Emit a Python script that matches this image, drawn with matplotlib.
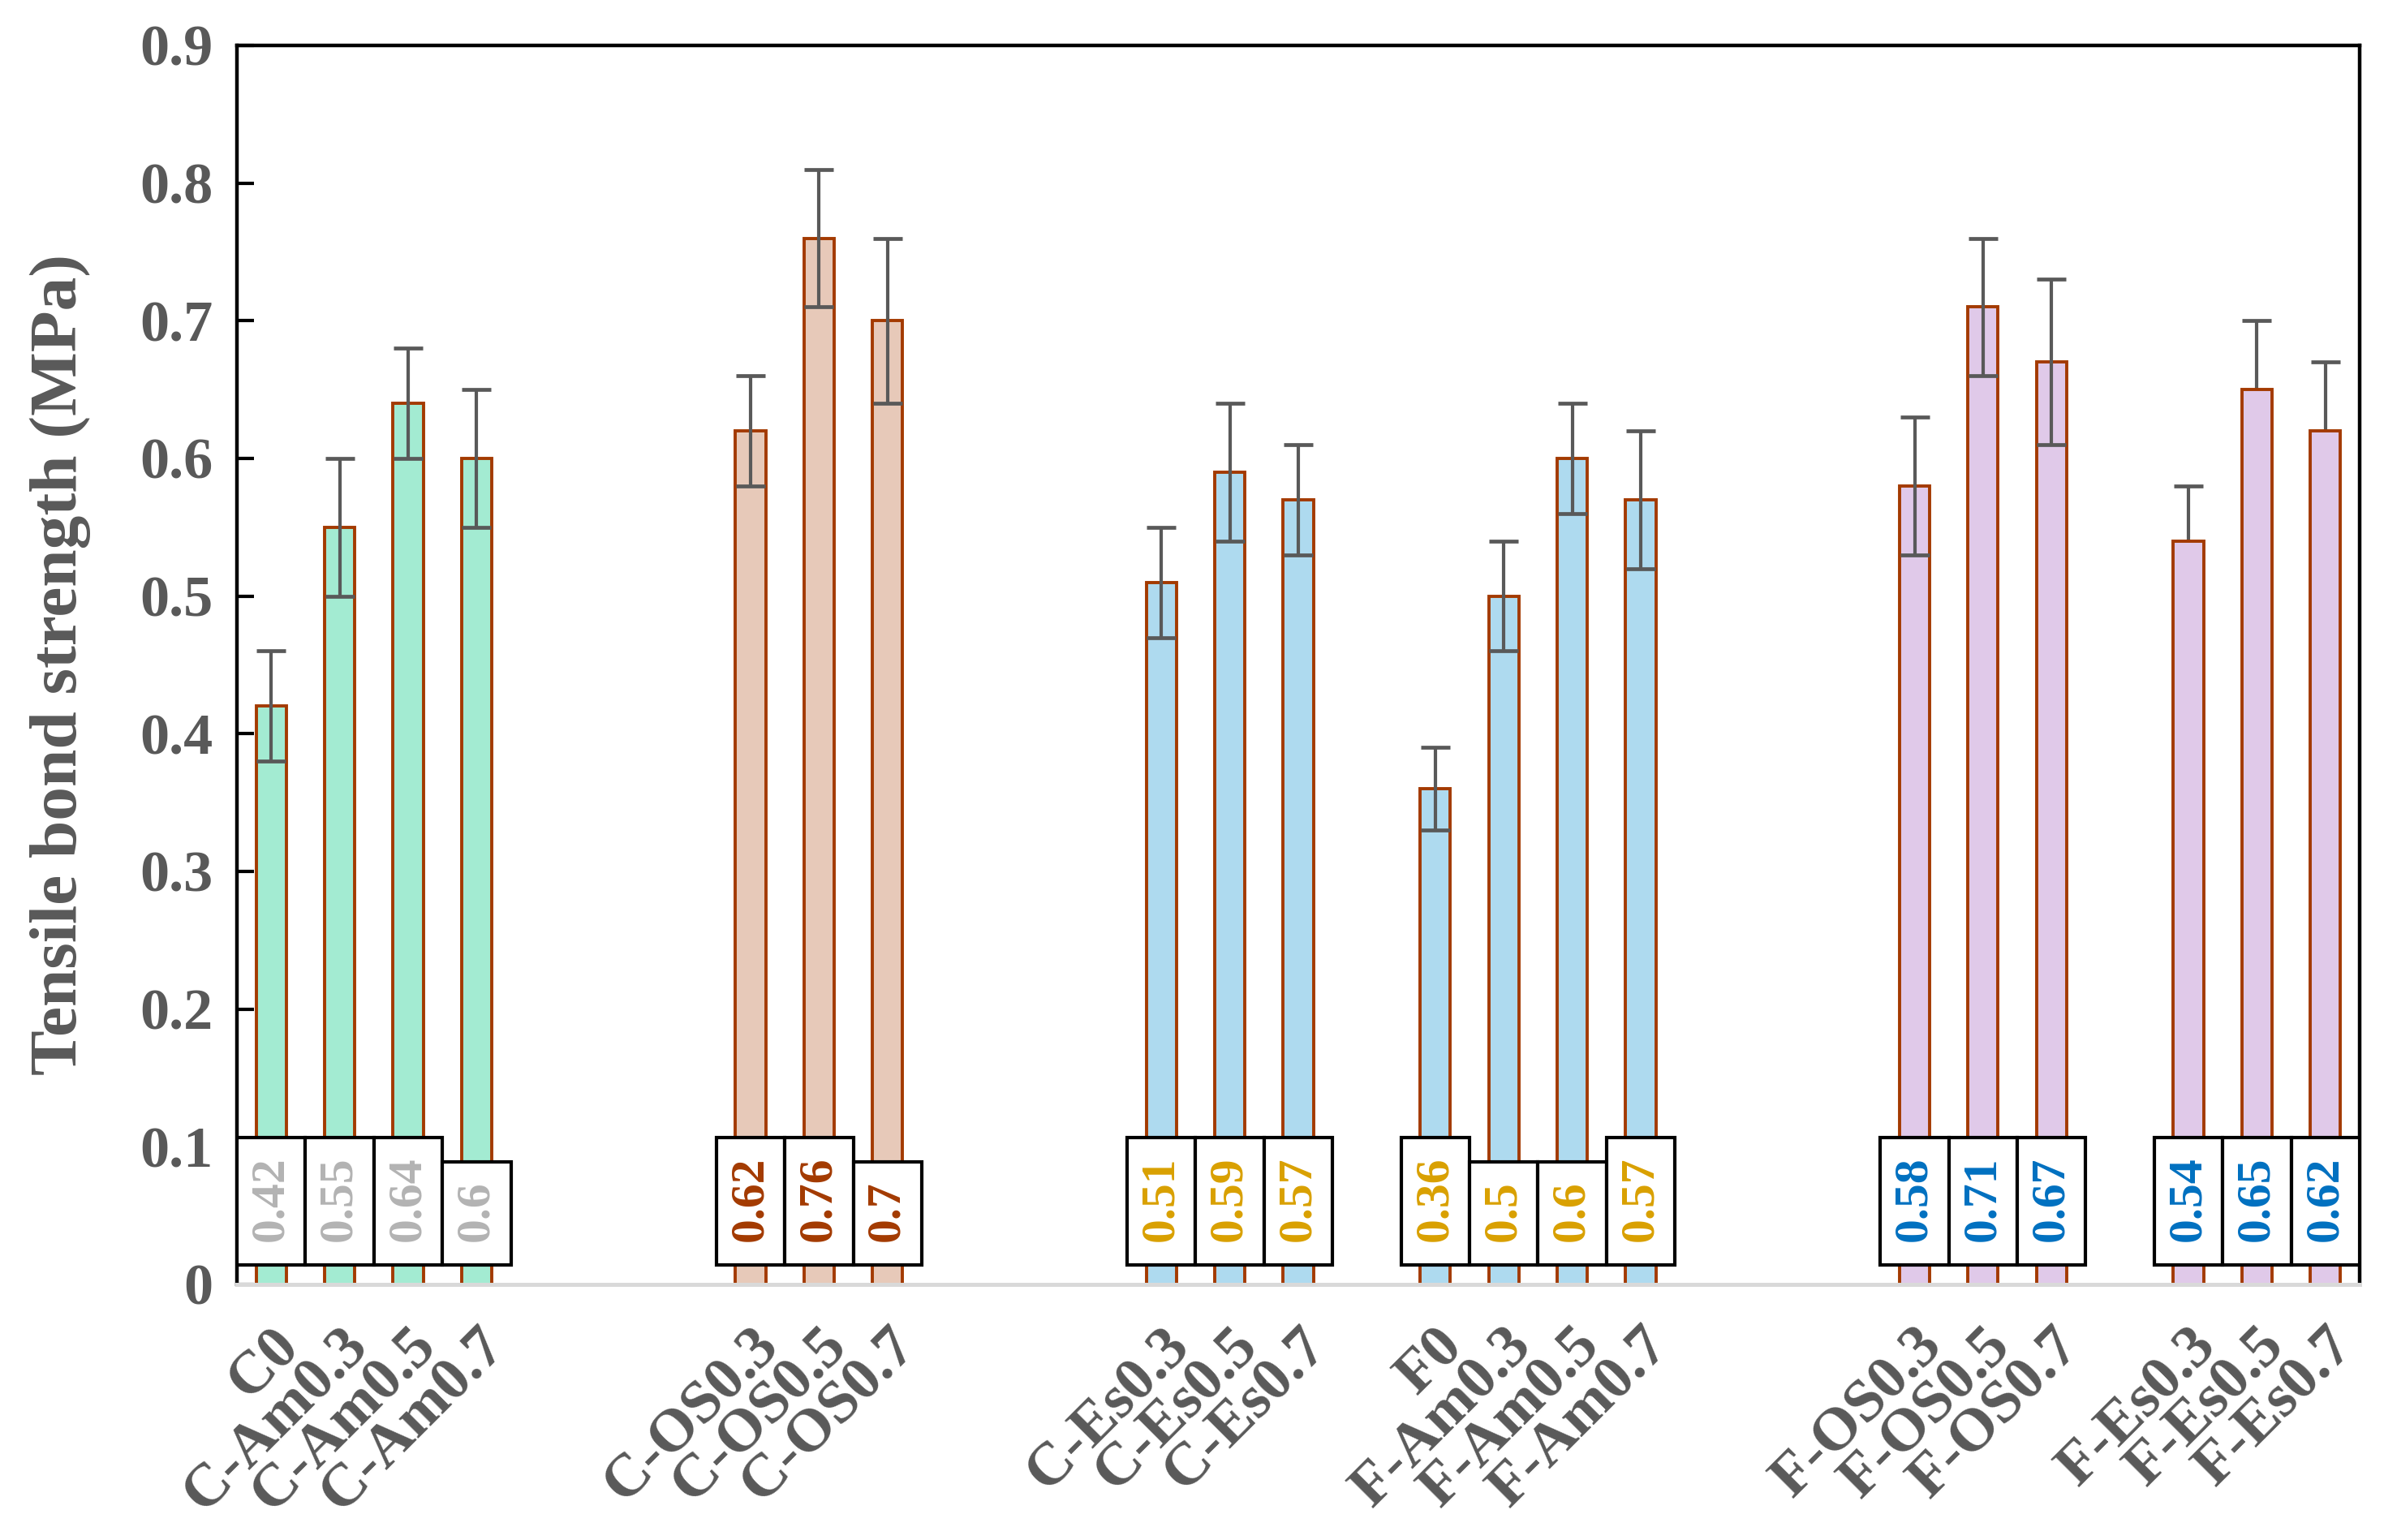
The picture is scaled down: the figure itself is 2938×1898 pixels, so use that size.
import numpy as np
import matplotlib
matplotlib.use("Agg")
import matplotlib.pyplot as plt
from matplotlib.patches import Rectangle

plt.rcParams['font.family'] = ['Liberation Serif', 'DejaVu Serif']
plt.rcParams['font.weight'] = 'bold'

# data
names = ["C0", "C-Am0.3", "C-Am0.5", "C-Am0.7",
         "C-OS0.3", "C-OS0.5", "C-OS0.7",
         "C-Es0.3", "C-Es0.5", "C-Es0.7",
         "F0", "F-Am0.3", "F-Am0.5", "F-Am0.7",
         "F-OS0.3", "F-OS0.5", "F-OS0.7",
         "F-Es0.3", "F-Es0.5", "F-Es0.7"]
strength = [0.42, 0.55, 0.64, 0.60,
            0.62, 0.76, 0.70,
            0.51, 0.59, 0.57,
            0.36, 0.50, 0.60, 0.57,
            0.58, 0.71, 0.67,
            0.54, 0.65, 0.62]
err = [0.04, 0.05, 0.04, 0.05,
       0.04, 0.05, 0.06,
       0.04, 0.05, 0.04,
       0.03, 0.04, 0.04, 0.05,
       0.05, 0.05, 0.06,
       0.04, 0.05, 0.05]
group_sizes = [4, 3, 3, 4, 3, 3]
gaps_after = [3, 3, 1, 3, 1, 0]
fill_cols = ["#A3EBD2", "#E7C9B9", "#AEDAEF", "#AEDAEF", "#E0C9E9", "#E0C9E9"]
text_cols = ["#B3B3B3", "#A33A00", "#D9A000", "#D9A000", "#0070C0", "#0070C0"]
err_behind = [False, False, False, False, False, True]

# slot positions
pos, fills, tcols, behind = [], [], [], []
x = 0
for g, n in enumerate(group_sizes):
    for i in range(n):
        pos.append(x)
        fills.append(fill_cols[g])
        tcols.append(text_cols[g])
        behind.append(err_behind[g])
        x += 1
    x += gaps_after[g]
pos = np.array(pos)

gray = "#595959"
edge = "#A33A00"

fig = plt.figure(figsize=(14.69, 9.49), dpi=200)
ax = fig.add_axes([0.0994, 0.166, 0.8904, 0.8045])

ax.bar(pos, strength, width=0.44, color=fills, edgecolor=edge, linewidth=1.4, zorder=2)
for p, v, e, b in zip(pos, strength, err, behind):
    ax.errorbar(p, v, yerr=e, fmt='none', ecolor=gray, elinewidth=1.5,
                capsize=6.5, capthick=1.7, zorder=1 if b else 3)

ax.set_xlim(-0.5, 30.5)
ax.set_ylim(0, 0.9)
ax.set_yticks(np.arange(0, 0.91, 0.1))
ax.set_yticklabels(["0"] + ["%.1f" % v for v in np.arange(0.1, 0.91, 0.1)])
ax.set_xticks(pos)
ax.set_xticklabels(names, rotation=45, ha='right', rotation_mode='anchor')

ax.tick_params(axis='y', direction='in', length=7.5, width=1.5, pad=10.5,
               labelsize=26, labelcolor=gray, color='black')
ax.tick_params(axis='x', length=0, pad=15, labelsize=27, labelcolor=gray)
for lab in ax.get_xticklabels() + ax.get_yticklabels():
    lab.set_fontweight('bold')

for s in ['left', 'top', 'right']:
    ax.spines[s].set_linewidth(1.6)
    ax.spines[s].set_color('black')
ax.spines['bottom'].set_color('#D9D9D9')
ax.spines['bottom'].set_linewidth(1.8)

ax.set_ylabel("Tensile bond strength (MPa)", fontsize=30, fontweight='bold', color=gray)
ax.yaxis.set_label_coords(-0.069, 0.5)

# value labels in boxes
texts = []
for p, v, c in zip(pos, strength, tcols):
    lbl = ("%.2f" % v).rstrip('0').rstrip('.')
    t = ax.text(p, 0.031, lbl, rotation=90, ha='center', va='bottom',
                fontsize=21.5, fontweight='bold', color=c, zorder=6)
    texts.append(t)

fig.canvas.draw()
inv = ax.transData.inverted()
for p, t in zip(pos, texts):
    bb = t.get_window_extent()
    y0, y1 = inv.transform([[0, bb.y0], [0, bb.y1]])[:, 1]
    ax.add_patch(Rectangle((p - 0.5, 0.014), 1.0, (y1 + 0.014) - 0.014,
                           facecolor='white', edgecolor='black', linewidth=1.5, zorder=5))

fig.savefig("out.png", dpi=200)
